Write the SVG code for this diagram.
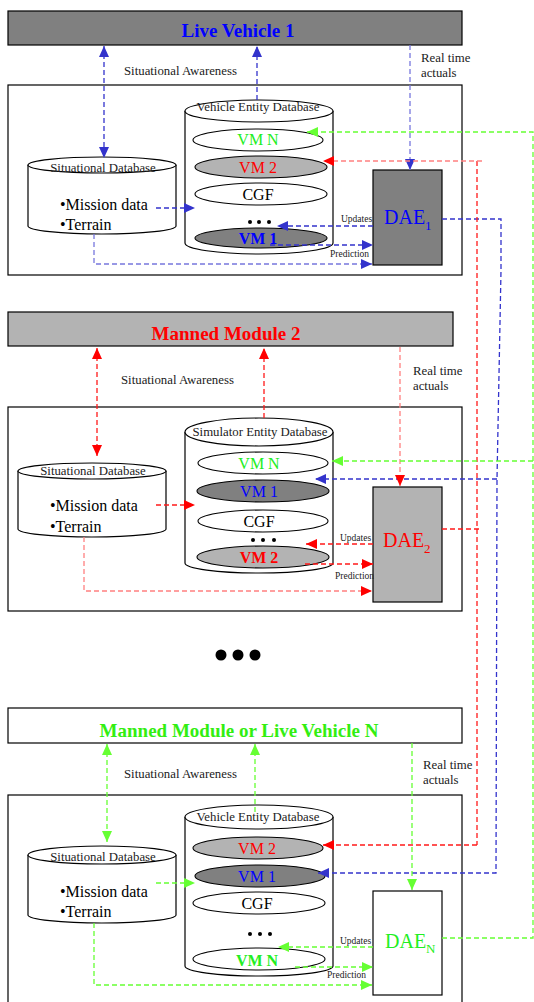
<svg xmlns="http://www.w3.org/2000/svg" width="534" height="1002" viewBox="0 0 534 1002">
  <style>
    text { font-family: "Liberation Serif", "Times New Roman", serif; }
    .box { stroke: #000; stroke-width: 1.2; }
    .frame { fill: none; stroke: #000; stroke-width: 1.2; }
    .cyl { fill: #fff; stroke: #000; stroke-width: 1.2; }
    .vm { stroke: #000; stroke-width: 1.1; }
    .white { fill: #fff; }
    .dark { fill: #808080; }
    .light { fill: #b3b3b3; }
    .title { font-size: 19px; font-weight: bold; text-anchor: middle; }
    .label { font-size: 12.8px; fill: #222; }
    .dbname { font-size: 12.8px; fill: #222; text-anchor: middle; }
    .bullet { font-size: 16px; fill: #000; }
    .vmt { font-size: 16px; text-anchor: middle; }
    .small { font-size: 9.5px; fill: #222; }
    .dae { font-size: 20px; }
    .c { fill: none; stroke-width: 1.3; stroke-dasharray: 5 3; }
    .b { stroke: #3333cc; }
    .bl { stroke: #7777dd; }
    .r { stroke: #ff1a1a; }
    .rl { stroke: #ff8080; }
    .g { stroke: #66ff33; }
    .ab { marker-end: url(#mb); }
    .abb { marker-start: url(#mb); marker-end: url(#mb); }
    .ar { marker-end: url(#mr); }
    .arr { marker-start: url(#mr); marker-end: url(#mr); }
    .ag { marker-end: url(#mg); }
    .agg { marker-start: url(#mg); marker-end: url(#mg); }
  </style>
  <defs>
    <marker id="mb" viewBox="0 0 11 10" refX="11" refY="5" markerWidth="11" markerHeight="10" markerUnits="userSpaceOnUse" orient="auto-start-reverse">
      <path d="M0,0 L11,5 L0,10 z" fill="#3333cc"/>
    </marker>
    <marker id="mr" viewBox="0 0 11 10" refX="11" refY="5" markerWidth="11" markerHeight="10" markerUnits="userSpaceOnUse" orient="auto-start-reverse">
      <path d="M0,0 L11,5 L0,10 z" fill="#ff0000"/>
    </marker>
    <marker id="mg" viewBox="0 0 11 10" refX="11" refY="5" markerWidth="11" markerHeight="10" markerUnits="userSpaceOnUse" orient="auto-start-reverse">
      <path d="M0,0 L11,5 L0,10 z" fill="#66ff33"/>
    </marker>
  </defs>

  <!-- ===== Live Vehicle 1 ===== -->
  <g id="live-vehicle-1">
    <rect class="box dark" x="8" y="11" width="454" height="34"/>
    <text class="title" x="238" y="37" fill="#0000ff">Live Vehicle 1</text>
  </g>
  <g id="frame-1">
    <rect class="frame" x="8" y="85" width="454" height="190"/>
  </g>
  <text class="label" x="124" y="75">Situational Awareness</text>
  <text class="label" x="421" y="62">Real time</text>
  <text class="label" x="421" y="77">actuals</text>

  <g id="situational-db-1">
    <path class="cyl" d="M28,165 L28,226 A74,8 0 0 0 176,226 L176,165"/>
    <ellipse class="cyl" cx="102" cy="165" rx="74" ry="8"/>
    <text class="dbname" x="103" y="172">Situational Database</text>
    <text class="bullet" x="60" y="210">•Mission data</text>
    <text class="bullet" x="60" y="230">•Terrain</text>
  </g>

  <g id="vehicle-entity-db-1">
    <path class="cyl" d="M185,111 L185,243 A74,11 0 0 0 333,243 L333,111"/>
    <ellipse class="cyl" cx="259" cy="111" rx="74" ry="11"/>
    <text class="dbname" x="258" y="111">Vehicle Entity Database</text>
    <ellipse class="vm white" cx="258" cy="140" rx="65" ry="11"/>
    <text class="vmt" x="258" y="145" fill="#22ee22">VM N</text>
    <ellipse class="vm light" cx="261" cy="167" rx="66" ry="11"/>
    <text class="vmt" x="258" y="173" fill="#ff0000">VM 2</text>
    <ellipse class="vm white" cx="261" cy="194" rx="66" ry="11"/>
    <text class="vmt" x="258" y="200" fill="#000">CGF</text>
    <circle cx="250" cy="222" r="2"/><circle cx="259" cy="222" r="2"/><circle cx="269" cy="222" r="2"/>
    <ellipse class="vm dark" cx="261" cy="238" rx="66" ry="10"/>
    <text class="vmt" x="258" y="244" fill="#0000ff" font-weight="bold">VM 1</text>
  </g>

  <g id="dae-1">
    <rect class="box dark" x="373" y="170" width="69" height="95"/>
    <text class="dae" x="384" y="224" fill="#0000ff">DAE<tspan font-size="13" dy="6">1</tspan></text>
  </g>
  <text class="small" x="341" y="222">Updates</text>
  <text class="small" x="330" y="257">Prediction</text>

  <!-- ===== Manned Module 2 ===== -->
  <g id="manned-module-2">
    <rect class="box light" x="8" y="312" width="445" height="34"/>
    <text class="title" x="226" y="340" fill="#ff0000">Manned Module 2</text>
  </g>
  <g id="frame-2">
    <rect class="frame" x="8" y="407" width="454" height="204"/>
  </g>
  <text class="label" x="121" y="384">Situational Awareness</text>
  <text class="label" x="413" y="375">Real time</text>
  <text class="label" x="413" y="390">actuals</text>

  <g id="situational-db-2">
    <path class="cyl" d="M18,471 L18,529 A74,8 0 0 0 166,529 L166,471"/>
    <ellipse class="cyl" cx="92" cy="471" rx="74" ry="8"/>
    <text class="dbname" x="93" y="475">Situational Database</text>
    <text class="bullet" x="50" y="511">•Mission data</text>
    <text class="bullet" x="50" y="532">•Terrain</text>
  </g>

  <g id="simulator-entity-db-2">
    <path class="cyl" d="M185,432 L185,563 A74,10 0 0 0 333,563 L333,432"/>
    <ellipse class="cyl" cx="259" cy="432" rx="74" ry="14"/>
    <text class="dbname" x="260" y="436">Simulator Entity Database</text>
    <ellipse class="vm white" cx="263" cy="463" rx="65" ry="11"/>
    <text class="vmt" x="259" y="469" fill="#22ee22">VM N</text>
    <ellipse class="vm dark" cx="263" cy="491" rx="66" ry="11"/>
    <text class="vmt" x="259" y="497" fill="#0000ff">VM 1</text>
    <ellipse class="vm white" cx="263" cy="521" rx="65" ry="11"/>
    <text class="vmt" x="259" y="527" fill="#000">CGF</text>
    <circle cx="253" cy="540" r="2"/><circle cx="263" cy="540" r="2"/><circle cx="274" cy="540" r="2"/>
    <ellipse class="vm light" cx="263" cy="557" rx="66" ry="11"/>
    <text class="vmt" x="259" y="563" fill="#ff0000" font-weight="bold">VM 2</text>
  </g>

  <g id="dae-2">
    <rect class="box light" x="373" y="487" width="69" height="115"/>
    <text class="dae" x="383" y="547" fill="#ff0000">DAE<tspan font-size="13" dy="6">2</tspan></text>
  </g>
  <text class="small" x="340" y="541">Updates</text>
  <text class="small" x="335" y="579">Prediction</text>

  <!-- continuation marker -->
  <g id="ellipsis">
    <circle cx="221" cy="655" r="5.5"/>
    <circle cx="238" cy="655" r="5.5"/>
    <circle cx="255" cy="655" r="5.5"/>
  </g>

  <!-- ===== Manned Module or Live Vehicle N ===== -->
  <g id="module-or-vehicle-n">
    <rect class="box white" x="8" y="708" width="454" height="35"/>
    <text class="title" x="239" y="737" fill="#33ee11">Manned Module or Live Vehicle N</text>
  </g>
  <g id="frame-n">
    <rect class="frame" x="8" y="795" width="454" height="215"/>
  </g>
  <text class="label" x="124" y="778">Situational Awareness</text>
  <text class="label" x="423" y="769">Real time</text>
  <text class="label" x="423" y="784">actuals</text>

  <g id="situational-db-n">
    <path class="cyl" d="M28,855 L28,915 A74,8 0 0 0 176,915 L176,855"/>
    <ellipse class="cyl" cx="102" cy="855" rx="74" ry="9"/>
    <text class="dbname" x="103" y="861">Situational Database</text>
    <text class="bullet" x="60" y="897">•Mission data</text>
    <text class="bullet" x="60" y="917">•Terrain</text>
  </g>

  <g id="vehicle-entity-db-n">
    <path class="cyl" d="M185,817 L185,966 A74,10 0 0 0 333,966 L333,817"/>
    <ellipse class="cyl" cx="259" cy="817" rx="74" ry="12"/>
    <text class="dbname" x="258" y="821">Vehicle Entity Database</text>
    <ellipse class="vm light" cx="258" cy="848" rx="65" ry="11"/>
    <text class="vmt" x="257" y="854" fill="#ff0000">VM 2</text>
    <ellipse class="vm dark" cx="260" cy="876" rx="65" ry="11"/>
    <text class="vmt" x="257" y="882" fill="#0000ff">VM 1</text>
    <ellipse class="vm white" cx="259" cy="903" rx="66" ry="11"/>
    <text class="vmt" x="257" y="909" fill="#000">CGF</text>
    <circle cx="250" cy="934" r="2"/><circle cx="260" cy="934" r="2"/><circle cx="270" cy="934" r="2"/>
    <ellipse class="vm white" cx="259" cy="959" rx="66" ry="11"/>
    <text class="vmt" x="257" y="966" fill="#22ee22" font-weight="bold">VM N</text>
  </g>

  <g id="dae-n">
    <rect class="box white" x="373" y="891" width="69" height="104"/>
    <text class="dae" x="385" y="948" fill="#22ee22">DAE<tspan font-size="13" dy="5">N</tspan></text>
  </g>
  <text class="small" x="340" y="944">Updates</text>
  <text class="small" x="327" y="978">Prediction</text>

  <!-- ===== Connectors ===== -->
  <g id="connectors">
    <!-- vehicle 1 (blue) -->
    <path class="c b abb" d="M104,46 L104,158"/>
    <path class="c b ab" d="M257,100 L257,46"/>
    <path class="c bl ab" d="M410,45 L410,170"/>
    <path class="c b ab" d="M156,208 L195,208"/>
    <path class="c bl ab" d="M94,234 L94,264 L372,264"/>
    <path class="c b ab" d="M373,226 L277,226"/>
    <path class="c b ab" d="M270,245 L373,245"/>
    <path class="c b ab" d="M442,219 L501,219 L501,270 L497,479 L496,873 L318,873"/>
    <path class="c b ab" d="M497,479 L315,479"/>

    <!-- module 2 (red) -->
    <path class="c r arr" d="M97,348 L97,456"/>
    <path class="c r ar" d="M264,418 L264,348"/>
    <path class="c rl ar" d="M400,347 L400,486"/>
    <path class="c r ar" d="M156,505 L195,505"/>
    <path class="c rl ar" d="M84,537 L84,591 L372,591"/>
    <path class="c r ar" d="M373,544 L306,544"/>
    <path class="c r ar" d="M305,564 L373,564"/>
    <path class="c r" d="M442,529 L481,529"/>
    <path class="c r" d="M477,161 L477,845"/>
    <path class="c rl ar" d="M482,161 L323,161"/>
    <path class="c r ar" d="M477,845 L323,845"/>

    <!-- module / vehicle N (green) -->
    <path class="c g agg" d="M107,744 L107,842"/>
    <path class="c g ag" d="M255,812 L255,744"/>
    <path class="c g ag" d="M412,743 L412,890"/>
    <path class="c g ag" d="M156,883 L195,883"/>
    <path class="c g ag" d="M94,923 L94,985 L372,985"/>
    <path class="c g ag" d="M373,947 L278,947"/>
    <path class="c g ag" d="M295,967 L373,967"/>
    <path class="c g ag" d="M442,938 L533,938 L533,132 L307,132"/>
    <path class="c g ag" d="M533,461 L332,461"/>
  </g>
</svg>
